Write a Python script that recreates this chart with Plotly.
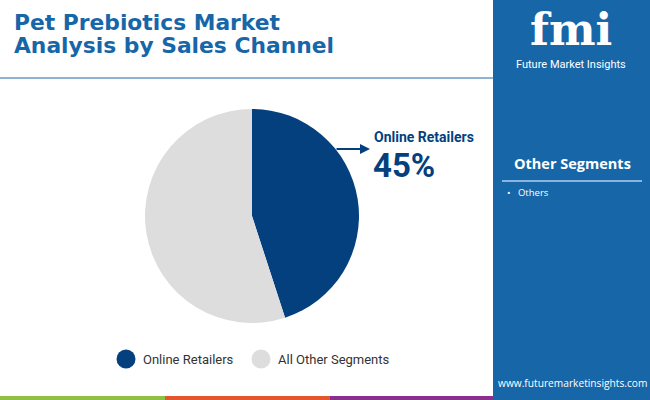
import plotly.graph_objects as go

# chart data
channels = ["Online Retailers", "All Other Segments"]
shares = [45, 55]
slice_colors = ["#043f7e", "#dddddd"]
other_segments = ["Others"]

W, H = 650, 400


def fx(x):
    return x / W


def fy(y):
    return 1 - y / H


fig = go.Figure()

# pie centred at (252, 216) px with radius ~107 px
cx, cy, r = 252, 216, 107
fig.add_trace(go.Pie(
    labels=channels,
    values=shares,
    marker=dict(colors=slice_colors, line=dict(width=0)),
    sort=False,
    direction="clockwise",
    rotation=0,
    textinfo="none",
    hoverinfo="label+percent",
    showlegend=False,
    domain=dict(x=[fx(cx - r), fx(cx + r)], y=[fy(cy + r), fy(cy - r)]),
))

shapes = []
annotations = []

# right-hand panel
shapes.append(dict(type="rect", xref="paper", yref="paper", x0=fx(493), x1=1, y0=0, y1=1,
                   fillcolor="#1766a8", line=dict(width=0), layer="below"))
# title separator
shapes.append(dict(type="line", xref="paper", yref="paper", x0=0, x1=fx(493), y0=fy(78), y1=fy(78),
                   line=dict(color="#8fb3d3", width=2)))
# bottom colour strip
for x0, x1, col in [(0, 165, "#8dc043"), (165, 330, "#e4572e"), (330, 493, "#8b2f8f")]:
    shapes.append(dict(type="rect", xref="paper", yref="paper", x0=fx(x0), x1=fx(x1), y0=0, y1=fy(396),
                       fillcolor=col, line=dict(width=0)))
# underline under "Other Segments"
shapes.append(dict(type="line", xref="paper", yref="paper", x0=fx(502), x1=fx(642), y0=fy(181), y1=fy(181),
                   line=dict(color="#8ab4e0", width=2)))

# title
for text, y in [("Pet Prebiotics Market", 22), ("Analysis by Sales Channel", 45)]:
    annotations.append(dict(text="<b>" + text + "</b>", x=fx(12), y=fy(y), xref="paper", yref="paper",
                            xanchor="left", yanchor="middle", showarrow=False,
                            font=dict(family="DejaVu Sans", size=21.8, color="#1766a8")))

# callout for the largest slice
annotations.append(dict(text="", x=fx(370), y=fy(149), xref="paper", yref="paper",
                        ax=-35, ay=0, showarrow=True, arrowhead=2, arrowsize=1, arrowwidth=2,
                        arrowcolor=slice_colors[0]))
annotations.append(dict(text="<b>" + channels[0] + "</b>", x=fx(372), y=fy(137), xref="paper", yref="paper",
                        xanchor="left", yanchor="middle", showarrow=False,
                        font=dict(family="Roboto", size=14, color=slice_colors[0])))
annotations.append(dict(text="<b>%d%%</b>" % shares[0], x=fx(371), y=fy(165), xref="paper", yref="paper",
                        xanchor="left", yanchor="middle", showarrow=False,
                        font=dict(family="Roboto", size=33, color=slice_colors[0])))

# legend (circles + labels)
for (lx, tx), name, col in zip([(126, 141), (261, 276)], channels, slice_colors):
    shapes.append(dict(type="circle", xref="paper", yref="paper",
                       x0=fx(lx - 9.5), x1=fx(lx + 9.5), y0=fy(359 + 9.5), y1=fy(359 - 9.5),
                       fillcolor=col, line=dict(width=0)))
    annotations.append(dict(text=name, x=fx(tx), y=fy(359), xref="paper", yref="paper",
                            xanchor="left", yanchor="middle", showarrow=False,
                            font=dict(family="Roboto", size=13, color="#333333")))

# logo
annotations.append(dict(text="<b>fmi</b>", x=fx(571), y=fy(30), xref="paper", yref="paper",
                        xanchor="center", yanchor="middle", showarrow=False,
                        font=dict(family="DejaVu Serif", size=44, color="white")))
annotations.append(dict(text="Future Market Insights", x=fx(571), y=fy(64), xref="paper", yref="paper",
                        xanchor="center", yanchor="middle", showarrow=False,
                        font=dict(family="Roboto", size=11, color="white")))

# side panel text
annotations.append(dict(text="<b>Other Segments</b>", x=fx(572), y=fy(163), xref="paper", yref="paper",
                        xanchor="center", yanchor="middle", showarrow=False,
                        font=dict(family="Open Sans", size=14.5, color="white")))
for i, seg in enumerate(other_segments):
    annotations.append(dict(text="•   " + seg, x=fx(505), y=fy(193 + i * 14), xref="paper", yref="paper",
                            xanchor="left", yanchor="middle", showarrow=False,
                            font=dict(family="Open Sans", size=9.5, color="white")))
annotations.append(dict(text="www.futuremarketinsights.com", x=fx(572), y=fy(383), xref="paper", yref="paper",
                        xanchor="center", yanchor="middle", showarrow=False,
                        font=dict(family="Open Sans", size=10.2, color="white")))

fig.update_layout(
    width=W, height=H,
    margin=dict(l=0, r=0, t=0, b=0),
    paper_bgcolor="white",
    plot_bgcolor="white",
    shapes=shapes,
    annotations=annotations,
)

# page body has a default 8px margin; remove it so the chart fills the window
fig.write_html("out.html", config={"displayModeBar": False},
               post_script="document.body.style.margin='0';")
